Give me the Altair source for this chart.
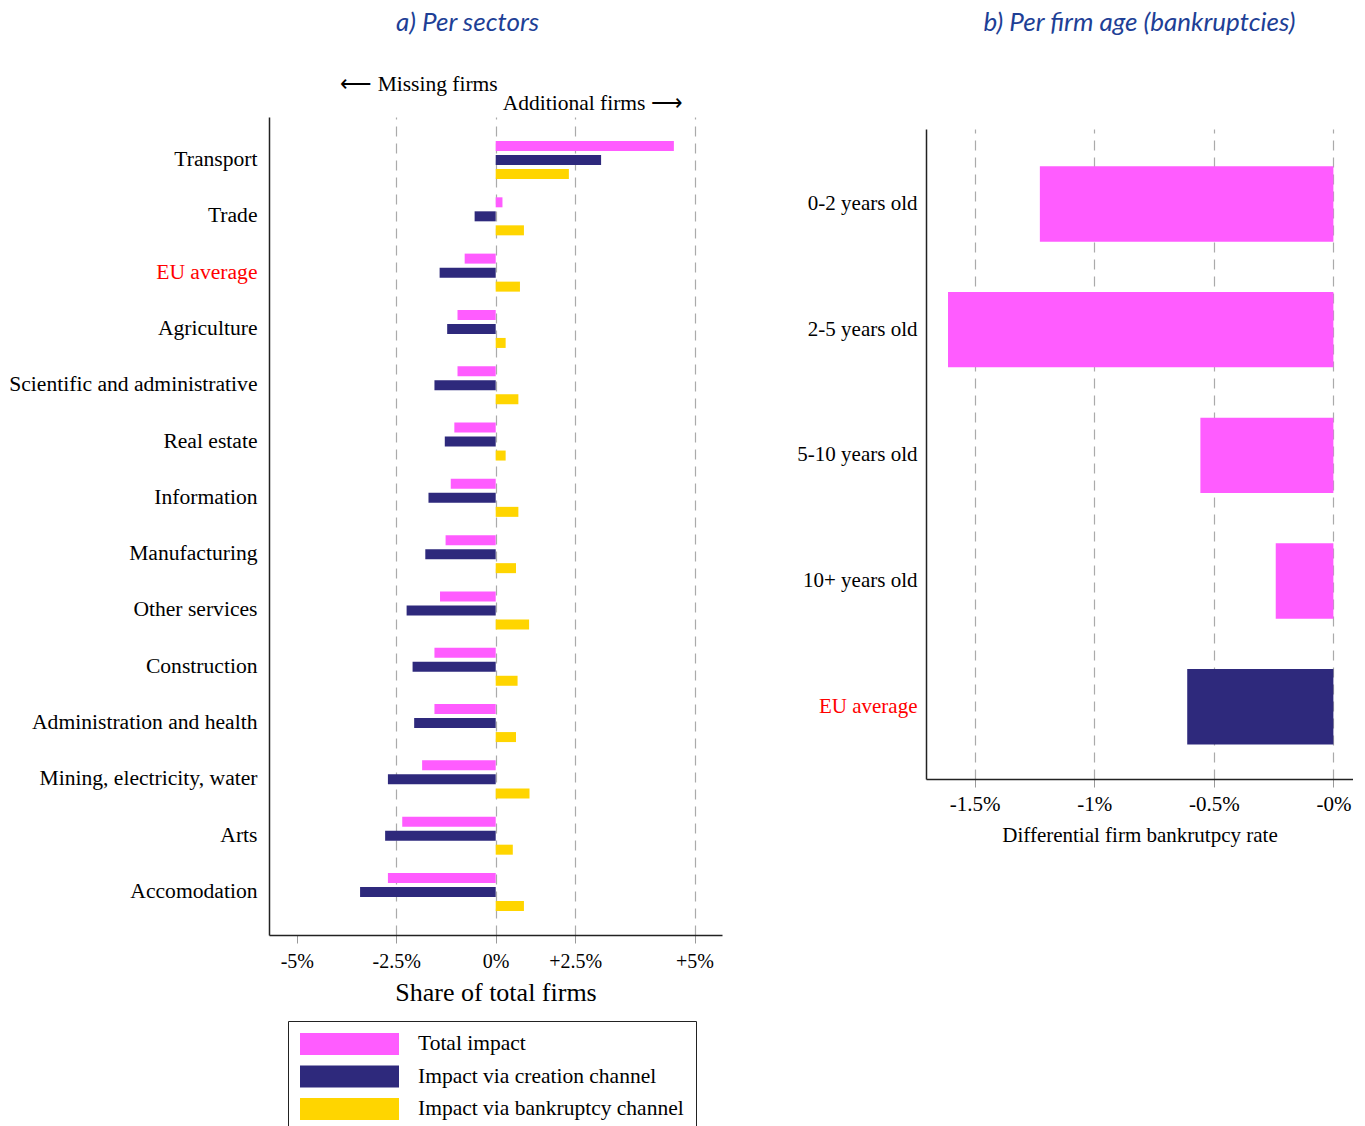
import altair as alt
import pandas as pd

# ---------------- data ----------------
sectors = ["Transport", "Trade", "EU average", "Agriculture", "Scientific and administrative",
           "Real estate", "Information", "Manufacturing", "Other services", "Construction",
           "Administration and health", "Mining, electricity, water", "Arts", "Accomodation"]
total_impact = [4.48, 0.17, -0.78, -0.96, -0.96, -1.04, -1.13, -1.26, -1.40, -1.54, -1.54, -1.85, -2.35, -2.71]
creation_channel = [2.65, -0.53, -1.41, -1.22, -1.54, -1.28, -1.69, -1.77, -2.24, -2.09, -2.05, -2.71, -2.78, -3.41]
bankruptcy_channel = [1.84, 0.71, 0.61, 0.25, 0.57, 0.25, 0.57, 0.51, 0.84, 0.55, 0.51, 0.85, 0.43, 0.71]
series_names = ["Total impact", "Impact via creation channel", "Impact via bankruptcy channel"]
series_colors = ["#FF5CFF", "#2E297C", "#FFD500"]

age_groups = ["0-2 years old", "2-5 years old", "5-10 years old", "10+ years old", "EU average"]
bankruptcy_rate = [-1.227, -1.611, -0.556, -0.241, -0.611]

left_ticks = [-5, -2.5, 0, 2, 5]
left_tick_labels = ["-5%", "-2.5%", "0%", "+2.5%", "+5%"]
left_grid_hidden = [-5]
right_ticks = [-1.5, -1, -0.5, 0]
right_tick_labels = ["-1.5%", "-1%", "-0.5%", "-0%"]

PINK, NAVY = series_colors[0], series_colors[1]
TITLE_BLUE = "#1E3F96"
SERIF = "Liberation Serif"

# right panel: plot is 662 px tall (aligned with the left one) but its frame starts 12 px lower
RIGHT_H = 662
RIGHT_TOP_GAP = 12
DASH, GAP = 10, 7


def label_expr(values, labels):
    return "".join(f"datum.value == {v} ? '{l}' : " for v, l in zip(values, labels)) + "''"


def partial_dash(visible):
    n = int(visible // (DASH + GAP))
    rest = visible - n * (DASH + GAP)
    return [DASH, GAP] * n + [min(rest, DASH), 2000]


red_expr = alt.ExprRef("datum.value == 'EU average' ? '#FF0000' : '#000000'")

df_left = pd.DataFrame({
    "sector": sectors * 3,
    "series": [s for s in series_names for _ in sectors],
    "value": total_impact + creation_channel + bankruptcy_channel,
})

bars_left = alt.Chart(df_left).mark_bar().encode(
    y=alt.Y("sector:N", sort=sectors,
            scale=alt.Scale(paddingInner=0, paddingOuter=0.264),
            axis=alt.Axis(title=None, ticks=False, labelFontSize=21.6, labelPadding=12,
                          labelColor=red_expr, domainColor="#222", domainWidth=1.5,
                          grid=False, labelLimit=400)),
    yOffset=alt.YOffset("series:N", sort=series_names,
                        scale=alt.Scale(paddingInner=0.286, paddingOuter=0.653)),
    x=alt.X("value:Q", scale=alt.Scale(domain=[-5.70, 5.69], nice=False, zero=False),
            axis=alt.Axis(values=left_ticks, labelExpr=label_expr(left_ticks, left_tick_labels),
                          title="Share of total firms", titleFontSize=26, titlePadding=8,
                          labelFontSize=20, labelPadding=8, tickSize=8, tickColor="#999",
                          domainColor="#222", domainWidth=1.5,
                          grid=True, gridColor="#aaa", gridDash=[DASH, GAP], gridWidth=1.2,
                          gridOpacity=alt.ExprRef(
                              "indexof([" + ",".join(str(v) for v in left_grid_hidden) + "], datum.value) >= 0 ? 0 : 1"),
                          labelFlush=False)),
    x2=alt.datum(0),
    color=alt.Color("series:N", sort=series_names,
                    scale=alt.Scale(domain=series_names, range=series_colors),
                    legend=alt.Legend(title=None, orient="none", legendX=19, legendY=904,
                                      direction="vertical", strokeColor="#222", padding=12,
                                      symbolType="M-1,-1H8V1H-1Z", symbolSize=484,
                                      symbolStrokeWidth=0, symbolOpacity=1,
                                      labelOffset=96, labelFontSize=21.5, rowPadding=10.5,
                                      labelLimit=400)),
)

missing = alt.Chart(pd.DataFrame({"t": ["\u27f5 Missing firms"]})).mark_text(
    align="right", baseline="middle", fontSize=21.5, font=SERIF, dx=2
).encode(x=alt.datum(0), y=alt.value(-32), text="t:N")

additional = alt.Chart(pd.DataFrame({"t": ["Additional firms \u27f6"]})).mark_text(
    align="left", baseline="middle", fontSize=21.5, font=SERIF, dx=7
).encode(x=alt.datum(0), y=alt.value(-13), text="t:N")

left = alt.layer(bars_left, missing, additional).properties(
    width=453, height=818,
    title=alt.TitleParams("a) Per sectors", font="Lato", fontStyle="italic", fontWeight="normal",
                          fontSize=26, color=TITLE_BLUE, anchor="middle", dx=-28, offset=38),
)

df_right = pd.DataFrame({"age": age_groups, "rate": bankruptcy_rate})

right = alt.Chart(df_right).mark_bar().encode(
    y=alt.Y("age:N", sort=age_groups,
            scale=alt.Scale(paddingInner=0.4, paddingOuter=0.333, align=0.588),
            axis=alt.Axis(title=None, ticks=False, labelFontSize=21, labelPadding=9,
                          labelColor=red_expr, domainColor="#222", domainWidth=1.5,
                          domainDash=[0, RIGHT_TOP_GAP, 2000],
                          grid=False, labelLimit=400)),
    x=alt.X("rate:Q", scale=alt.Scale(domain=[-1.703, 0.082], nice=False, zero=False),
            axis=alt.Axis(values=right_ticks, labelExpr=label_expr(right_ticks, right_tick_labels),
                          title="Differential firm bankrutpcy rate", titleFontSize=21, titlePadding=10,
                          labelFontSize=21, labelPadding=6, tickSize=8, tickColor="#999",
                          domainColor="#222", domainWidth=1.5,
                          grid=True, gridColor="#aaa", gridWidth=1.2,
                          gridDash=partial_dash(RIGHT_H - RIGHT_TOP_GAP),
                          labelFlush=False)),
    x2=alt.datum(0),
    color=alt.condition("datum.age == 'EU average'", alt.value(NAVY), alt.value(PINK)),
).properties(
    width=427, height=RIGHT_H,
    title=alt.TitleParams("b) Per firm age (bankruptcies)", font="Lato", fontStyle="italic",
                          fontWeight="normal", fontSize=26, color=TITLE_BLUE, anchor="middle",
                          offset=81),
)

chart = alt.hconcat(left, right, spacing=74).properties(
    padding={"left": 0, "top": 2, "right": 0, "bottom": 0}
).configure(font=SERIF).configure_view(stroke=None).configure_axis(
    labelFont=SERIF, titleFont=SERIF, titleFontWeight="normal", labelColor="#000", titleColor="#000"
).configure_legend(labelFont=SERIF, labelColor="#000")

chart.save("out.html", embed_options={"renderer": "svg", "actions": False})
